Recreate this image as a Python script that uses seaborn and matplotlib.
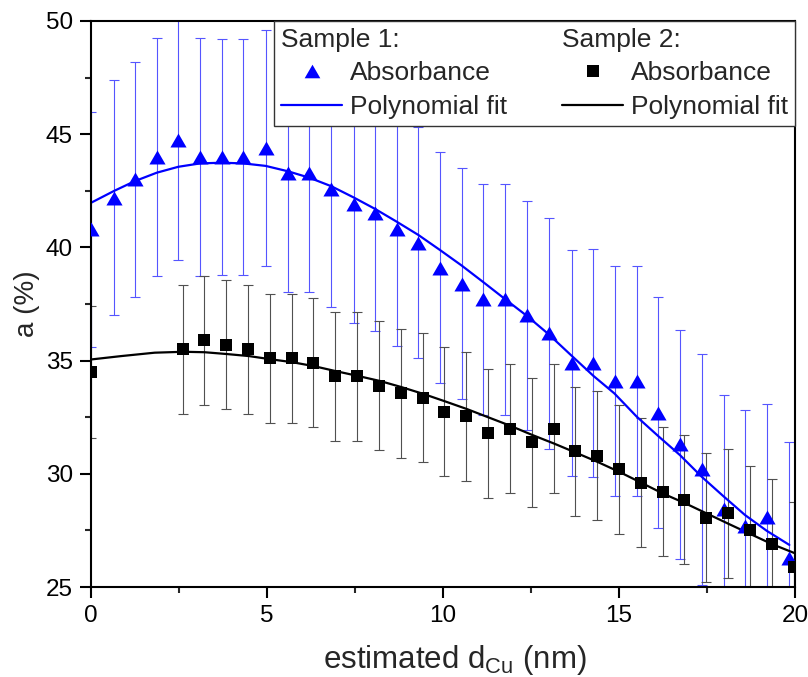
import matplotlib
matplotlib.use("Agg")
import matplotlib.pyplot as plt
from matplotlib.lines import Line2D
from matplotlib.ticker import MultipleLocator
import seaborn as sns
import numpy as np

# ---------------- data ----------------
s1_x = [0, 0.65, 1.25, 1.87, 2.48, 3.1, 3.71, 4.33, 4.96, 5.6, 6.2, 6.83, 7.47,
        8.07, 8.68, 9.29, 9.91, 10.54, 11.15, 11.77, 12.38, 13.01, 13.66, 14.27,
        14.89, 15.5, 16.12, 16.73, 17.35, 17.97, 18.58, 19.2, 19.83]
s1_y = [40.8, 42.2, 43.0, 44.0, 44.74, 44.0, 44.0, 44.0, 44.4, 43.3, 43.3, 42.6,
        41.9, 41.5, 40.8, 40.2, 39.1, 38.4, 37.7, 37.7, 37.0, 36.2, 34.9, 34.9,
        34.1, 34.1, 32.7, 31.3, 30.2, 28.45, 27.7, 28.1, 26.3]
s1_err = [5.2, 5.2, 5.2, 5.25, 5.3, 5.25, 5.2, 5.2, 5.2, 5.25, 5.25, 5.25, 5.25,
          5.2, 5.15, 5.1, 5.1, 5.1, 5.1, 5.1, 5.05, 5.1, 5.0, 5.05, 5.1, 5.1,
          5.1, 5.05, 5.1, 5.05, 5.1, 5.0, 5.1]

s2_x = [0, 2.6, 3.22, 3.84, 4.46, 5.08, 5.7, 6.32, 6.94, 7.56, 8.18, 8.8, 9.42,
        10.04, 10.66, 11.28, 11.9, 12.52, 13.14, 13.76, 14.38, 15.0, 15.62,
        16.24, 16.86, 17.48, 18.1, 18.72, 19.34, 19.96]
s2_y = [34.5, 35.5, 35.9, 35.7, 35.5, 35.1, 35.1, 34.9, 34.3, 34.3, 33.9, 33.55,
        33.35, 32.75, 32.55, 31.8, 32.0, 31.4, 32.0, 31.0, 30.8, 30.2, 29.6,
        29.2, 28.85, 28.05, 28.25, 27.5, 26.9, 25.9]
s2_err = [2.9] + [2.85] * 29

fit1_x = [0, 0.65, 1.25, 1.87, 2.48, 3.1, 3.71, 4.33, 4.96, 5.6, 6.2, 6.83, 7.47,
          8.07, 8.68, 9.3, 9.91, 10.53, 11.15, 11.76, 12.38, 12.99, 13.61,
          14.27, 14.87, 15.5, 16.12, 16.73, 17.35, 17.96, 18.58, 19.2, 19.84]
fit1_y = [41.97, 42.49, 42.93, 43.3, 43.56, 43.71, 43.74, 43.71, 43.6, 43.36,
          43.08, 42.7, 42.2, 41.7, 41.14, 40.55, 39.89, 39.2, 38.46, 37.72,
          36.98, 36.18, 35.28, 34.33, 33.55, 32.53, 31.66, 30.83, 29.87, 29.02,
          28.18, 27.48, 26.86]

fit2_x = [0, 0.86, 1.81, 2.63, 3.23, 3.86, 4.49, 5.1, 5.72, 6.35, 6.97, 7.59,
          8.21, 8.82, 9.44, 10.06, 10.68, 11.28, 11.9, 12.53, 13.15, 13.78,
          14.4, 15.03, 15.64, 16.26, 16.88, 17.49, 18.1, 18.72, 19.34, 20.0]
fit2_y = [35.05, 35.2, 35.35, 35.39, 35.37, 35.29, 35.2, 35.06, 34.93, 34.75,
          34.53, 34.32, 34.1, 33.83, 33.53, 33.2, 32.86, 32.5, 32.13, 31.72,
          31.34, 30.93, 30.52, 30.07, 29.6, 29.12, 28.7, 28.25, 27.8, 27.35,
          26.9, 26.49]

x_ticks = [0, 5, 10, 15, 20]
y_ticks = [25, 30, 35, 40, 45, 50]
legend_labels = ["Sample 1:", "Absorbance", "Polynomial fit",
                 "Sample 2:", "Absorbance", "Polynomial fit"]

# ---------------- style ----------------
sns.set_style("ticks")
plt.rcParams["font.family"] = ["Liberation Sans", "DejaVu Sans"]
plt.rcParams["mathtext.fontset"] = "custom"
plt.rcParams["mathtext.rm"] = "Liberation Sans"
plt.rcParams["mathtext.it"] = "Liberation Sans:italic"

BLUE = (0, 0, 1)
TRI = [(0, 0.866), (-1, -0.866), (1, -0.866)]

fig = plt.figure(figsize=(8.08, 6.77), dpi=100)
ax = fig.add_axes([0.1126, 0.1329, 0.8713, 0.8361])

# error bars
ax.errorbar(s1_x, s1_y, yerr=s1_err, fmt="none", ecolor="#5555ff",
            elinewidth=0.8, capsize=3.6, capthick=0.8, zorder=1)
ax.errorbar(s2_x, s2_y, yerr=s2_err, fmt="none", ecolor="#505050",
            elinewidth=0.8, capsize=3.6, capthick=0.8, zorder=1)

# fits
sns.lineplot(x=fit1_x, y=fit1_y, color=BLUE, linewidth=1.6, ax=ax,
             legend=False, zorder=2, sort=False)
sns.lineplot(x=fit2_x, y=fit2_y, color="black", linewidth=1.6, ax=ax,
             legend=False, zorder=2, sort=False)

# markers
sns.scatterplot(x=s1_x, y=s1_y, color=BLUE, marker=TRI, s=135, linewidth=0,
                ax=ax, legend=False, zorder=3)
sns.scatterplot(x=s2_x, y=s2_y, color="black", marker="s", s=72, linewidth=0,
                ax=ax, legend=False, zorder=3)

# axes
ax.set_xlim(0, 20)
ax.set_ylim(25, 50)
ax.set_xticks(x_ticks)
ax.set_yticks(y_ticks)
ax.xaxis.set_minor_locator(MultipleLocator(2.5))
ax.yaxis.set_minor_locator(MultipleLocator(2.5))
ax.tick_params(axis="both", which="major", direction="out", length=8, width=1.5,
               labelsize=17.5, pad=5, colors="black")
ax.tick_params(axis="both", which="minor", direction="out", length=4, width=1.5)
ax.tick_params(top=False, right=False, which="both")
for sp in ax.spines.values():
    sp.set_visible(True)
    sp.set_linewidth(1.5)
    sp.set_color("black")

ax.set_xlabel(r"estimated d$_{\mathrm{Cu}}$ (nm)", fontsize=22.5)
ax.xaxis.set_label_coords(0.517, -0.099)
ax.set_ylabel("a (%)", fontsize=20, labelpad=4)

# legend
blank = Line2D([], [], linestyle="none", marker="")
handles = [
    blank,
    Line2D([], [], linestyle="none", marker=TRI, color=BLUE, markersize=11.3,
           markeredgewidth=0),
    Line2D([], [], color=BLUE, linewidth=1.6),
    blank,
    Line2D([], [], linestyle="none", marker="s", color="black", markersize=8.5,
           markeredgewidth=0),
    Line2D([], [], color="black", linewidth=1.6),
]
leg = ax.legend(handles, legend_labels, ncol=2, loc="upper right",
                bbox_to_anchor=(1, 1), borderaxespad=0, fontsize=19,
                frameon=True, fancybox=False, edgecolor="#333333",
                framealpha=1, handlelength=2.3, handletextpad=0.3,
                columnspacing=2.1, labelspacing=0.36, borderpad=0.26)
leg.get_frame().set_linewidth(1.0)
for col in leg._legend_handle_box.get_children():
    header = col.get_children()[0]
    header.get_children()[0].set_width(0)
    header.sep = 0

fig.savefig("out.png", dpi=100)
